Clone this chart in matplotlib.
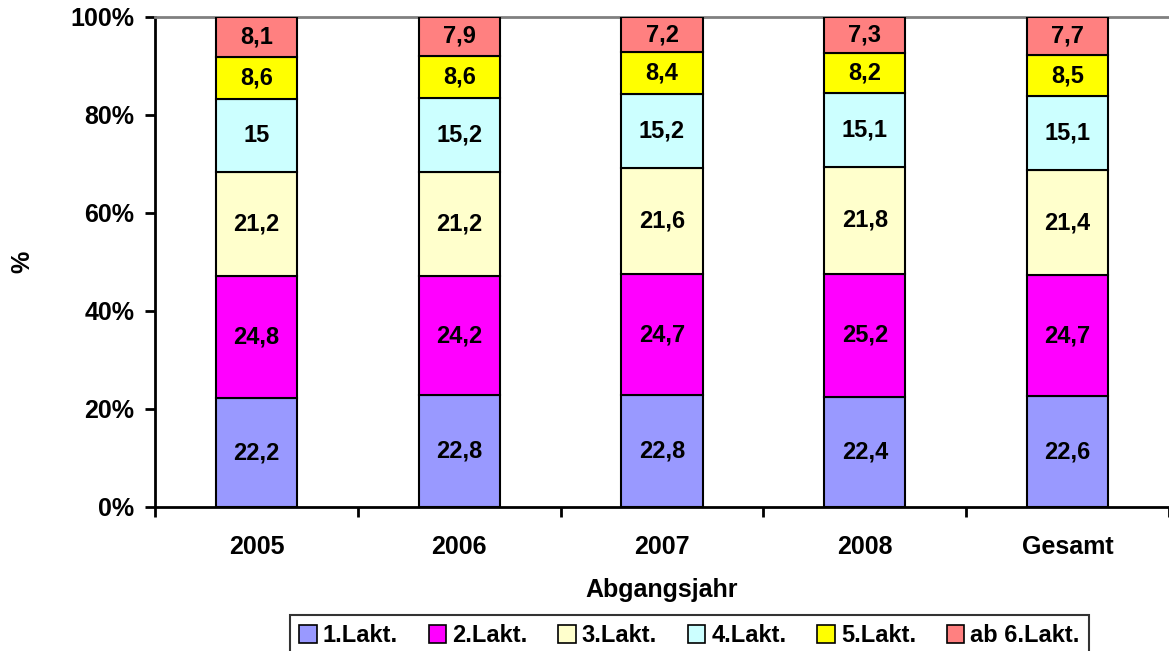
import matplotlib.pyplot as plt
import numpy as np

years = ['2005', '2006', '2007', '2008', 'Gesamt']
series = ['1.Lakt.', '2.Lakt.', '3.Lakt.', '4.Lakt.', '5.Lakt.', 'ab 6.Lakt.']
lakt1 = [22.2, 22.8, 22.8, 22.4, 22.6]
lakt2 = [24.8, 24.2, 24.7, 25.2, 24.7]
lakt3 = [21.2, 21.2, 21.6, 21.8, 21.4]
lakt4 = [15.0, 15.2, 15.2, 15.1, 15.1]
lakt5 = [8.6, 8.6, 8.4, 8.2, 8.5]
lakt6 = [8.1, 7.9, 7.2, 7.3, 7.7]
colors = ['#9999FF', '#FF00FF', '#FFFFCC', '#CCFFFF', '#FFFF00', '#FF8080']

plt.rcParams['font.family'] = ['Liberation Sans', 'DejaVu Sans']
plt.rcParams['font.weight'] = 'bold'

data = np.array([lakt1, lakt2, lakt3, lakt4, lakt5, lakt6])
pct = data / data.sum(axis=0) * 100

fig = plt.figure(figsize=(11.69, 6.51), dpi=100)
ax = fig.add_axes([0.1326, 0.2212, 0.8674, 0.7527])

x = np.arange(len(years))
bottom = np.zeros(len(years))
for i in range(len(series)):
    bars = ax.bar(x, pct[i], 0.4, bottom=bottom, color=colors[i],
                  edgecolor='black', linewidth=1.5, label=series[i], zorder=3)
    for j, b in enumerate(bars):
        lbl = ('%g' % data[i][j]).replace('.', ',')
        ax.text(b.get_x() + b.get_width() / 2, bottom[j] + pct[i][j] / 2, lbl,
                ha='center', va='center', fontsize=17, fontweight='bold', zorder=4)
    bottom += pct[i]

ax.set_xlim(-0.5, len(years) - 0.5)
ax.set_ylim(0, 100)
ax.set_yticks([0, 20, 40, 60, 80, 100])
ax.set_yticklabels(['0%', '20%', '40%', '60%', '80%', '100%'], fontsize=18, fontweight='bold')
ax.set_xticks(x)
ax.set_xticklabels(years, fontsize=18, fontweight='bold')
ax.set_xticks(np.arange(len(years) + 1) - 0.5, minor=True)
ax.tick_params(axis='x', which='major', length=0, pad=20)
ax.tick_params(axis='x', which='minor', length=7, width=2, direction='out')
ax.tick_params(axis='y', length=7, width=2, direction='out', pad=8)

ax.spines['right'].set_visible(False)
ax.spines['top'].set_color('#808080')
ax.spines['top'].set_linewidth(2)
ax.spines['left'].set_linewidth(2)
ax.spines['bottom'].set_linewidth(2)

ax.set_xlabel('Abgangsjahr', fontsize=18, fontweight='bold', labelpad=14)
ax.set_ylabel('%', fontsize=18, fontweight='bold', labelpad=26)

leg = ax.legend(loc='upper center', bbox_to_anchor=(0.527, -0.22),
                ncol=6, fontsize=17, frameon=True, fancybox=False,
                edgecolor='black', handlelength=0.75, handleheight=0.75,
                handletextpad=0.25, columnspacing=1.3, borderpad=0.4,
                borderaxespad=0)
leg.get_frame().set_linewidth(1.5)
for h in leg.legend_handles:
    h.set_linewidth(1.2)

fig.savefig('out.png', dpi=100)
